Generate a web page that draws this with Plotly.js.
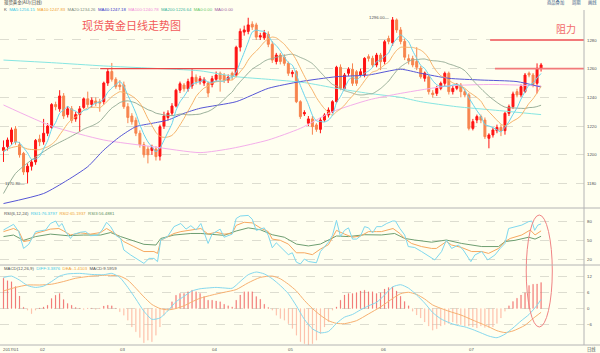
<!DOCTYPE html>
<html><head><meta charset="utf-8">
<script src="https://cdn.plot.ly/plotly-3.0.1.min.js"></script>
<style>html,body{margin:0;padding:0;background:#FFFFF0;}#chart{width:600px;height:353px;}</style>
</head><body><div id="chart"></div>
<script>
// ---- price candles (index = trading day) ----
const open = [1203,1205.7,1209,1218,1207,1201,1188,1192,1195,1211,
1209,1215,1219,1235,1232,1241,1228,1232,1225,1228,
1233,1239,1235,1237.5,1237,1237,1250,1258,1252.6,1248.6,
1248.6,1233.5,1227,1224,1215,1207,1204,1203,1204,1199,
1220,1226,1229,1234,1245,1248.6,1246,1248,1254,1251,
1250,1250,1249,1252.6,1256.8,1255.6,1252,1256.8,1255.6,1275,
1285.5,1286,1291,1290.5,1282,1281.5,1284,1277,1265,1269.5,
1268,1263.7,1256.5,1258,1237,1228.5,1222,1225,1220.8,1217.7,
1224.2,1227.7,1230,1237,1261,1246.3,1256.8,1259.6,1257.9,1255.6,
1255.6,1268.4,1267.2,1262.6,1269.5,1265,1281,1278,1294,1287,
1279,1267,1267,1265,1260.3,1253.3,1254.4,1243,1242.8,1246.3,
1249.8,1256.8,1244,1246.3,1248.6,1244,1241.7,1218.4,1224.2,1226.6,
1224.2,1211.5,1213.8,1216.8,1219.1,1216.8,1228.9,1233.5,1244,1241.7,
1244,1256.8,1255.6,1249.8,1260.3];
const high = [1210,1212,1219,1220,1209,1202,1194,1197,1211,1214,
1225,1222,1236,1237,1245,1243,1234,1234,1230,1234,
1240,1244,1240,1240,1239,1251,1260,1264,1254,1252,
1251,1236,1229,1226,1217,1209,1206,1207,1206,1221,
1230,1231,1236,1246,1251,1250,1253,1260,1256,1255,
1254,1251,1255,1258,1258,1257,1256,1258,1276,1288,
1290,1295.5,1293,1292,1285,1287,1286,1279,1271,1271,
1270,1265,1259,1259,1238,1231,1227,1227,1222,1226,
1229,1233,1238,1262,1263,1257,1261,1263.7,1259,1260,
1268,1270,1269,1271,1271,1280,1283,1296,1295,1289,
1281,1270,1269,1275,1262,1258,1256,1245,1248,1251,
1258,1258,1248,1250,1250,1246,1243,1225,1228,1228,
1226,1215,1219,1221,1221,1230,1235,1244,1246,1249,
1257,1258,1257,1263.7,1264];
const low = [1195,1203,1207,1207,1198,1186,1180,1189,1193,1206,
1207,1213,1218,1231,1230,1225,1226,1222,1223,1216,
1232,1233,1233,1234,1230,1235,1248,1251,1246,1245,
1232,1222,1221,1213,1205,1198,1194,1200,1196,1196,
1218,1224,1227,1233,1243,1244,1244,1246,1249,1249,
1248,1240,1247,1251,1244,1250,1250,1252,1254,1272,
1283,1284,1287,1280,1280,1280,1275,1264,1263,1263,
1262,1255,1254,1236,1225,1227,1220,1214,1216,1215,
1223,1226,1229,1236,1245,1245,1255,1248,1248,1254,
1254,1265,1261,1261,1259,1263,1277,1276,1285,1277,
1266,1263,1261,1259,1253,1251,1242,1240,1241,1245,
1248,1242,1242,1245,1240,1240,1217,1217,1222,1222,
1211,1204.5,1212,1215,1213,1214,1227,1232,1240,1240,
1243,1254,1247,1242.8,1258];
const close = [1205,1210.3,1217.3,1209,1200,1188,1192,1195,1210,1209,
1215,1220,1235,1233.5,1241,1227,1232,1224,1228,1232,
1239,1235,1238,1236,1236,1250,1258,1252.6,1247.5,1247.5,
1233.5,1226,1223,1215,1207,1200,1200,1205,1198.7,1219.6,
1227,1229,1234,1245,1249.5,1246,1251,1254,1251,1253,
1252.5,1243,1253,1255.6,1252.6,1252.1,1254,1254.4,1274.9,1286,
1287,1290.5,1289,1282,1283,1285,1277,1266,1269.5,1265,
1263.7,1256.8,1257.5,1237,1226.6,1229.4,1225,1219.6,1217.7,1224.2,
1227.7,1231.2,1237,1261,1246.3,1255.6,1259.6,1249.8,1249.8,1257.9,
1267.2,1267.2,1262.6,1269.5,1264.9,1278.8,1279,1294,1287,1279,
1268,1265.5,1262.6,1261,1254.4,1257,1244,1242,1246.3,1249.8,
1256.8,1244,1246.3,1248.6,1244,1241.7,1218.4,1223.1,1226.6,1224.2,
1212.6,1213.8,1217.3,1219.1,1216.8,1228.9,1233.5,1242.4,1241.7,1247.5,
1255.6,1255.6,1249,1260.3,1262.6];

// MA line starts (before enough closes exist)
const ma5HeadX = [0,1,2,3], ma5HeadV = [1202,1204,1207,1209];
const ma10HeadX = [0,2,4,6,8], ma10HeadV = [1203,1205,1206,1204,1203.5];
const ma20HeadX = [0,3,7,12,16], ma20HeadV = [1173,1187,1196.4,1205.7,1211.5];
// slow MAs
const ma40X = [0,10,16,21,25,29,33,37,41,45,49,58,66,74,83,91,99,104,111,119,128,134];
const ma40V = [1166,1173,1182.4,1191.7,1203.3,1212.6,1219.6,1221.9,1224.2,1228.9,1232.4,1237,1246.3,1251,1254.4,1255.6,1259.6,1256.8,1253.3,1252.1,1251,1247.2];
const ma100X = [0,12,25,37,49,57,66,74,82,91,99,111,122,134];
const ma100V = [1234.7,1220,1210.3,1205.7,1201.5,1204.5,1210.3,1218.4,1230,1238.2,1242.8,1248,1249,1248];
const ma200X = [0,12,25,37,49,58,66,75,83,91,99,104,113,122,134];
const ma200V = [1266,1264.2,1261.9,1260.3,1258.5,1254.4,1252.6,1250.3,1246.3,1242.8,1240,1237,1233.5,1231.2,1228];

// RSI lines
const rsi1X = [0,1.7,2.5,3.8,5,6.3,7.1,8,10.5,11.7,13,13.8,14.6,15.5,16.7,17.5,19.2,20.5,21.7,23.4,24.6,25.7,26.7,28,29.2,30,31.7,33.4,35,36.3,37.5,38.4,39.2,40.9,42.5,44.2,45.5,46.7,48,49.2,
50,51,52,54,55,57,58,59,61,62,63,65,66,67,68,69,71,72,73,74,75,76,78,79,80,81,82,83,84,85,86,87,88,89,90,91,92,93,
94.2,95.5,97,97.7,98.8,100,100.9,102.5,104.2,105.5,107.5,109.2,110.4,111.7,113.4,114.6,116.5,117.5,119.2,120.7,122.5,123.8,125,125.9,127.5,129.2,130.9,131.7,132.4,133.2,134];
const rsi1 = [66.6,72,75.7,64,37,43.6,53,64,66.6,77,81,72,77,64,53,59.7,63,64,57.5,58,66.6,79,72,58,53,34.5,26.5,19.6,13,21,21,15.8,50.5,56,72,77,68,73.5,66.6,77,
62,45,60,68,55,60,85,89,90,84,66,70,58,38,46,40,27,30,15,12,20,16,14,32,40,47,58,82,56,66,70,52,52,57,72,70,62,72,
72,77,81,81,69,58.6,40,38.5,32,26.5,18.5,32,50.5,37,42.5,34.5,15.8,26.5,32,18.5,26.5,37,45,69,72,74.5,80,81,66,74.5,76.38];
const rsi2X = [0,2.5,3.8,5,6.7,8,11.7,13.8,15,16.7,19.2,21.7,24.2,25.7,28,30,32.5,35,37.5,38.4,39.2,42.5,44.2,46.7,49.2,
51,53,55,57,58,60,62,64,66,67,69,71,73,75,77,79,81,83,85,87,89,91,93,
94.2,97.1,98.8,100,101.7,104.2,106.7,107.9,110.4,111.7,114.2,116.7,119.2,120.9,123.4,125,126.3,129.2,131.3,132.5,133.3,134];
const rsi2 = [64,69,65,48,50,61,68,69,65,58.6,62,60,62.5,69,60,48,40,32,32,29,50,61,64,66.6,69,
60,63,60,61,74,79,78,70,64,52,50,44,30,30,27,36,43,66,60,55,57,64,64,
64,69,61,53,45,40,37,37,48,42.5,38.5,32,32,29,37,48,53,58.6,66.6,58.6,62.5,65.19];
const rsi3X = [0,2.5,5,8,11.7,15.9,20,24.2,26.7,29.2,32.5,35,38,39.2,42.5,46.7,49.2,
52,55,58,61,64,67,70,73,76,79,83,86,90,
94.2,97.5,100,102.5,106.7,110.4,114.2,119.2,123.4,125,127.5,130.9,132.5,134];
const rsi3 = [56,58.5,50,56,60,57.5,58.5,58.5,62.5,56,49,43.6,42.5,53,58.5,61,61,
60,58,65,70,67,59,55,44,41,44,57,56,59,
58.6,61,53,50.5,47,50.5,45,40,40,48,50,55,52,56.49];

// MACD
const macdBar = [11.2,10.3,9.9,8.1,4.6,0.5,-0.6,-1.9,-0.6,0.2,
0.6,1.2,3.7,4.9,5.6,3.3,1.9,1.2,0.4,0.1,
-0.4,0.1,0.1,-0.4,0.1,0.9,1.2,1.0,0.1,-1.2,
-2.5,-4.3,-6.8,-8.6,-10.7,-12.7,-11.7,-12.3,-9.9,-6.8,
-2.5,-0.6,2.5,4.9,5.6,5.6,6.2,6.8,6.2,5.6,
4.4,3.1,3.1,2.8,2.5,1.6,1.0,0.6,3.1,5.0,
6.2,6.2,6.2,4.4,3.4,1.6,0.4,-0.6,-2.5,-3.7,
-4.3,-5.6,-7.4,-9.9,-12.3,-13.0,-13.6,-13.0,-11.7,-9.3,
-6.8,-4.9,-0.6,0.6,3.1,5.0,5.6,5.6,5.9,6.5,
6.8,6.2,6.2,5.6,5.8,7.2,7.8,8.0,6.5,4.5,
2.6,1.0,-1.0,-2.4,-3.5,-5.0,-6.5,-8.0,-7.5,-6.5,
-6.0,-5.5,-5.0,-5.5,-6.0,-6.5,-6.5,-6.8,-7.2,-6.5,
-7.0,-7.0,-6.8,-5.5,-3.5,-1.0,1.0,2.6,3.8,5.0,
5.8,8.5,9.0,9.1,9.6];
const difX = [0,2,4,6,8,10,12,14,16,19,22,25,27,29,31,33,35,37,39,41,43,45,47,49,51,53,55,57,59,61,63,65,67,69,71,73,75,77,79,81,83,85,87,89,91,93,95,97,99,101,103,105,107,109,111,113,115,117,119,121,123,125,127,129,131,133,134];
const difV = [11.5,12.0,10.5,8.5,7.8,8.3,10.0,12.0,12.8,13.0,12.6,12.5,13.0,11.5,7.8,3.5,-1.0,-4.0,-3.5,-0.8,2.5,4.5,6.5,7.3,7.6,7.8,7.6,7.5,10.0,12.5,13.5,12.8,11.0,8.5,5.5,1.0,-4.0,-7.5,-9.0,-8.5,-5.5,-3.2,-2.2,-0.5,1.0,2.3,5.0,8.0,8.8,7.5,5.0,2.0,-1.5,-3.8,-5.2,-6.2,-6.8,-7.8,-9.0,-10.2,-10.8,-9.5,-7.2,-4.6,-2.2,1.2,3.39];
const deaX = [0,3,6,9,12,15,18,22,26,29,31,33,35,37,39,41,43,45,47,49,52,55,58,61,64,67,69,71,73,75,77,79,81,83,85,88,91,94,97,99,101,103,105,107,111,114,117,121,123,125,127,130,132,134];
const deaV = [6.5,7.8,8.7,8.7,9.0,10.0,11.2,12.0,12.3,12.0,10.5,7.5,4.3,1.5,0.0,-0.5,0.0,1.0,2.5,3.8,5.0,6.0,7.0,9.5,11.5,12.0,11.0,9.0,6.5,3.0,0.0,-2.5,-4.5,-5.5,-5.6,-4.5,-2.0,0.6,3.7,5.5,6.0,5.2,3.5,1.3,-1.0,-2.4,-4.3,-6.8,-8.2,-8.9,-8.3,-6.2,-3.7,-1.41];

// axis labels / markers
const priceTicks = [1180,1200,1220,1240,1260,1280];
const rsiTicks = [20,50,80];
const macdTicks = [-6,0,6,12];
const monthIdx = [0,9,29,52,71,94,116];
const monthText = ['2017/01','02','03','04','05','06','07'];
const resLevel = [1260,1260,1280];
const resStart = [24.1,122.5,121.3];
const resEnd = [57.7,144.7,144.7];

const idx = close.map((_, i) => i);
function sma(n, hx, hv) {
  const xs = hx.slice(), ys = hv.slice();
  for (let i = n - 1; i < close.length; i++) {
    let s = 0; for (let k = i - n + 1; k <= i; k++) s += close[k];
    xs.push(i); ys.push(s / n);
  }
  return [xs, ys];
}
const m5 = sma(5, ma5HeadX, ma5HeadV), m10 = sma(10, ma10HeadX, ma10HeadV), m20 = sma(20, ma20HeadX, ma20HeadV);

const ln = (x, y, color, ax, shape) => ({type:'scatter', mode:'lines', x, y, yaxis: ax, xaxis:'x',
  line:{color, width:1, shape: shape||'linear', smoothing:0.6}, hoverinfo:'skip'});

const barColors = macdBar.map(v => v >= 0 ? '#F05A5A' : '#FDB49C');
const traces = [
  ln(ma200X, ma200V, '#86E6E2', 'y', 'spline'),
  ln(ma100X, ma100V, '#F4AEEA', 'y', 'spline'),
  ln(ma40X, ma40V, '#5656D6', 'y', 'spline'),
  ln(m20[0], m20[1], '#98AE98', 'y', 'spline'),
  ln(m10[0], m10[1], '#F7B36A', 'y', 'spline'),
  ln(m5[0], m5[1], '#66D4EE', 'y', 'spline'),
  {type:'candlestick', x: idx, open, high, low, close, xaxis:'x', yaxis:'y',
   increasing:{line:{color:'#FF1414', width:1}, fillcolor:'#FF1414'},
   decreasing:{line:{color:'#F7844E', width:1}, fillcolor:'#F7844E'},
   whiskerwidth:0, hoverinfo:'skip'},
  ln(rsi3X, rsi3, '#6E9E70', 'y2'),
  ln(rsi2X, rsi2, '#F7A860', 'y2'),
  ln(rsi1X, rsi1, '#7ED8EE', 'y2'),
  {type:'bar', x: idx, y: macdBar, xaxis:'x', yaxis:'y3', width:0.18,
   marker:{color: barColors, line:{color: barColors, width:0.2}}, hoverinfo:'skip'},
  ln(deaX, deaV, '#F7B070', 'y3', 'spline'),
  ln(difX, difV, '#86D8EE', 'y3', 'spline')
];

const H = 345, W = 584;
const py = y => 1 - y / H, px = x => x / W;
const small = {family:'Liberation Sans, Noto Sans CJK SC', size:4.3, color:'#505050'};
const ann = [];
ann.push({xref:'paper', yref:'paper', x:px(2), y:py(3), xanchor:'left', yanchor:'middle', showarrow:false,
  text:'现货黄金(AU)(日线)', font:{family:'Noto Sans CJK SC', size:4.4, color:'#404040'}});
[['商品叠加',555.5],['周期',576],['画线',592]].forEach(t => ann.push({xref:'paper', yref:'paper', x:px(t[1]), y:py(3),
  xanchor:'center', yanchor:'middle', showarrow:false, text:t[0], font:{family:'Noto Sans CJK SC', size:4.3, color:'#3A5A8A'}}));
ann.push({xref:'paper', yref:'paper', x:px(2), y:py(9.5), xanchor:'left', yanchor:'middle', showarrow:false, font:small,
  text:'K  <span style="color:#3CC8E6">MA5:1256.15</span>  <span style="color:#F0A030">MA10:1247.83</span>  <span style="color:#7C8C7C">MA20:1234.26</span>  <span style="color:#3434C8">MA40:1247.18</span>  <span style="color:#F08CD8">MA100:1240.78</span>  <span style="color:#3CB49C">MA200:1226.64</span>  <span style="color:#66C866">MA0:0.00</span>  <span style="color:#A060A0">MA0:0.00</span>'});
ann.push({xref:'paper', yref:'paper', x:px(131), y:py(25), xanchor:'center', yanchor:'middle', showarrow:false,
  text:'现货黄金日线走势图', font:{family:'Noto Sans CJK SC', size:11, color:'#F25A5A'}});
ann.push({xref:'paper', yref:'paper', x:px(566), y:py(28), xanchor:'center', yanchor:'middle', showarrow:false,
  text:'阻力', font:{family:'Noto Sans CJK SC', size:10, color:'#F26A6A'}});
ann.push({xref:'x', yref:'y', x:97, y:1296, xanchor:'right', yanchor:'middle', showarrow:false, xshift:-1,
  text:'1296.00—', font:small});
ann.push({xref:'x', yref:'y', x:6, y:1180, xanchor:'right', yanchor:'middle', showarrow:false, xshift:-1,
  text:'1170.80—', font:small});
ann.push({xref:'paper', yref:'paper', x:px(2), y:py(213), xanchor:'left', yanchor:'middle', showarrow:false, font:small,
  text:'RSI(6,12,24)  <span style="color:#3CC8E6">RSI1:76.3797</span>  <span style="color:#F0A030">RSI2:65.1937</span>  <span style="color:#5E8E60">RSI3:56.4881</span>'});
ann.push({xref:'paper', yref:'paper', x:px(2), y:py(268.5), xanchor:'left', yanchor:'middle', showarrow:false, font:small,
  text:'MACD(12,26,9)  <span style="color:#3CC8E6">DIFF:3.3876</span>  <span style="color:#F0A030">DEA:-1.4103</span>  MACD:9.5959'});
monthIdx.forEach((m, k) => ann.push({xref:'x', yref:'paper', x:m, y:py(349), xanchor:'left', yanchor:'middle',
  showarrow:false, xshift:-2, text:monthText[k], font:small}));
ann.push({xref:'paper', yref:'paper', x:px(591), y:py(349), xanchor:'center', yanchor:'middle', showarrow:false,
  text:'日线', font:{family:'Noto Sans CJK SC', size:4.3, color:'#505050'}});

const shapes = [];
resLevel.forEach((lv, k) => shapes.push({type:'line', xref:'x', yref:'y', x0:resStart[k], x1:resEnd[k], y0:lv, y1:lv,
  line:{color: k === 0 ? '#E84848' : '#F27A7A', width: k === 0 ? 1.2 : 1.8}}));
shapes.push({type:'circle', xref:'x', yref:'paper', x0:130.3, x1:136.8, y0:py(327), y1:py(215),
  line:{color:'#F08484', width:1}});
[208, 265].forEach(y => shapes.push({type:'line', xref:'paper', yref:'paper', x0:0, x1:600 / W, y0:py(y), y1:py(y),
  line:{color:'#B4B4B4', width:1}}));
shapes.push({type:'line', xref:'paper', yref:'paper', x0:0, x1:600 / W, y0:0, y1:0, line:{color:'#B4B4B4', width:1}});
shapes.push({type:'line', xref:'paper', yref:'paper', x0:1, x1:1, y0:0, y1:py(10), line:{color:'#B4B4B4', width:1}});

const yax = (domain, range, tickvals) => ({domain, range, tickvals, side:'right', anchor:'x', showline:false,
  ticks:'', showgrid:true, gridcolor:'#DDDDD0', griddash:'dash', gridwidth:1, zeroline:false,
  tickfont:{family:'Liberation Sans', size:4.3, color:'#505050'}, fixedrange:true, ticklabelstandoff:2});

const layout = {
  width:600, height:353, margin:{l:0, r:16, t:0, b:8},
  paper_bgcolor:'#FFFFF0', plot_bgcolor:'#FFFFF0', showlegend:false, bargap:0,
  font:{family:'Liberation Sans, Noto Sans CJK SC', size:5, color:'#505050'},
  xaxis:{range:[-0.87, 144.7], anchor:'y3', showticklabels:false, showgrid:false, zeroline:false,
    showline:false, ticks:'', rangeslider:{visible:false}, fixedrange:true},
  yaxis: yax([py(208), py(10)], [1162.9, 1300.9], priceTicks),
  yaxis2: yax([py(265), py(208)], [10.4, 101.9], rsiTicks),
  yaxis3: yax([0, py(265)], [-13.5, 16.1], macdTicks),
  annotations: ann, shapes
};
Plotly.newPlot('chart', traces, layout, {displayModeBar:false, staticPlot:true});
</script></body></html>
